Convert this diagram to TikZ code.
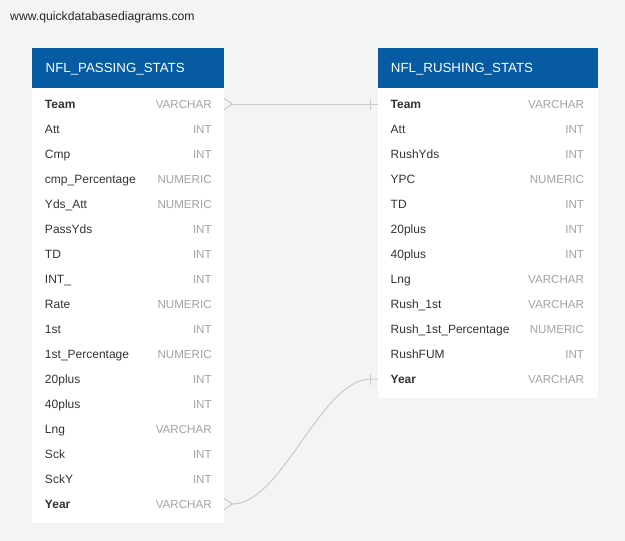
\documentclass[tikz,border=0pt]{standalone}
\usepackage{fontspec}
\setmainfont{Liberation Sans}
\usetikzlibrary{calc}
\definecolor{bgc}{HTML}{F3F4F4}
\definecolor{hdrc}{HTML}{065BA3}
\definecolor{namec}{HTML}{333333}
\definecolor{typec}{HTML}{A3A3A3}
\definecolor{connc}{HTML}{CACACA}
\tikzset{
  rowbox/.style={draw=none,inner sep=0,minimum height=25pt},
  tablebox/.style={fill=white,draw=none,inner sep=0},
  hdrbox/.style={fill=hdrc,draw=none,inner sep=0,minimum height=40pt},
  hdrtext/.style={anchor=base west,inner sep=0,text=white,font=\fontsize{13.3}{15}\selectfont},
  fieldname/.style={anchor=base west,inner sep=0,text=namec,font=\fontsize{12}{14}\selectfont},
  fieldtype/.style={anchor=base east,inner sep=0,text=typec,font=\fontsize{11.6}{14}\selectfont},
  conn/.style={draw=connc,line width=1pt},
}
\begin{document}
\begin{tikzpicture}[x=1pt,y=-1pt]
\fill[bgc] (0,0) rectangle (625,541);
\useasboundingbox (0,0) rectangle (625,541);
\node[anchor=base west,inner sep=0,text=black!85,font=\fontsize{12.2}{14}\selectfont] (url) at (10,20) {www.quickdatabasediagrams.com};
% left table
\node[tablebox,minimum width=192pt,minimum height=475pt,anchor=north west] (ptab) at (32,48) {};
\node[hdrbox,minimum width=192pt,anchor=north west] (phdr) at (32,48) {};
\node[hdrtext] (phdrtxt) at (45.5,72.7) {NFL\_PASSING\_STATS};
\foreach \n/\t [count=\i] in {\textbf{Team}/VARCHAR,Att/INT,Cmp/INT,cmp\_Percentage/NUMERIC,Yds\_Att/NUMERIC,PassYds/INT,TD/INT,INT\_/INT,Rate/NUMERIC,1st/INT,1st\_Percentage/NUMERIC,20plus/INT,40plus/INT,Lng/VARCHAR,Sck/INT,SckY/INT,\textbf{Year}/VARCHAR}{
  \node[rowbox,minimum width=192pt] (p\i) at (128,79+25*\i) {};
  \node[fieldname] (pn\i) at ($(p\i.west)+(13,4.4)$) {\n};
  \node[fieldtype] (pt\i) at ($(p\i.east)+(-12.3,4.4)$) {\t};
}
% right table
\node[tablebox,minimum width=220pt,minimum height=350pt,anchor=north west] (rtab) at (378,48) {};
\node[hdrbox,minimum width=220pt,anchor=north west] (rhdr) at (378,48) {};
\node[hdrtext] (rhdrtxt) at (390.7,72.7) {NFL\_RUSHING\_STATS};
\foreach \n/\t [count=\i] in {\textbf{Team}/VARCHAR,Att/INT,RushYds/INT,YPC/NUMERIC,TD/INT,20plus/INT,40plus/INT,Lng/VARCHAR,Rush\_1st/VARCHAR,Rush\_1st\_Percentage/NUMERIC,RushFUM/INT,\textbf{Year}/VARCHAR}{
  \node[rowbox,minimum width=220pt] (r\i) at (488,79+25*\i) {};
  \node[fieldname] (rn\i) at ($(r\i.west)+(12.7,4.4)$) {\n};
  \node[fieldtype] (rt\i) at ($(r\i.east)+(-14,4.4)$) {\t};
}
% connector Team -- Team
\coordinate (a1) at ($(p1.east)+(8,0)$);
\coordinate (b1) at ($(r1.west)+(-7,0)$);
\draw[conn] ($(p1.east)+(0,-5.5)$) -- (a1) -- ($(p1.east)+(0,5.5)$);
\draw[conn] (a1) -- (r1.west);
\draw[conn] ($(b1)+(0,-5.5)$) -- ($(b1)+(0,5.5)$);
% connector Year -- Year
\coordinate (a2) at ($(p17.east)+(8,0)$);
\coordinate (b2) at ($(r12.west)+(-7,0)$);
\coordinate (c2a) at ($(a2)+(50,0)$);
\coordinate (c2b) at ($(b2)+(-50,0)$);
\draw[conn] ($(p17.east)+(0,-5.5)$) -- (a2) -- ($(p17.east)+(0,5.5)$);
\draw[conn] (a2) .. controls (c2a) and (c2b) .. (b2) -- (r12.west);
\draw[conn] ($(b2)+(0,-5.5)$) -- ($(b2)+(0,5.5)$);
\end{tikzpicture}
\end{document}
